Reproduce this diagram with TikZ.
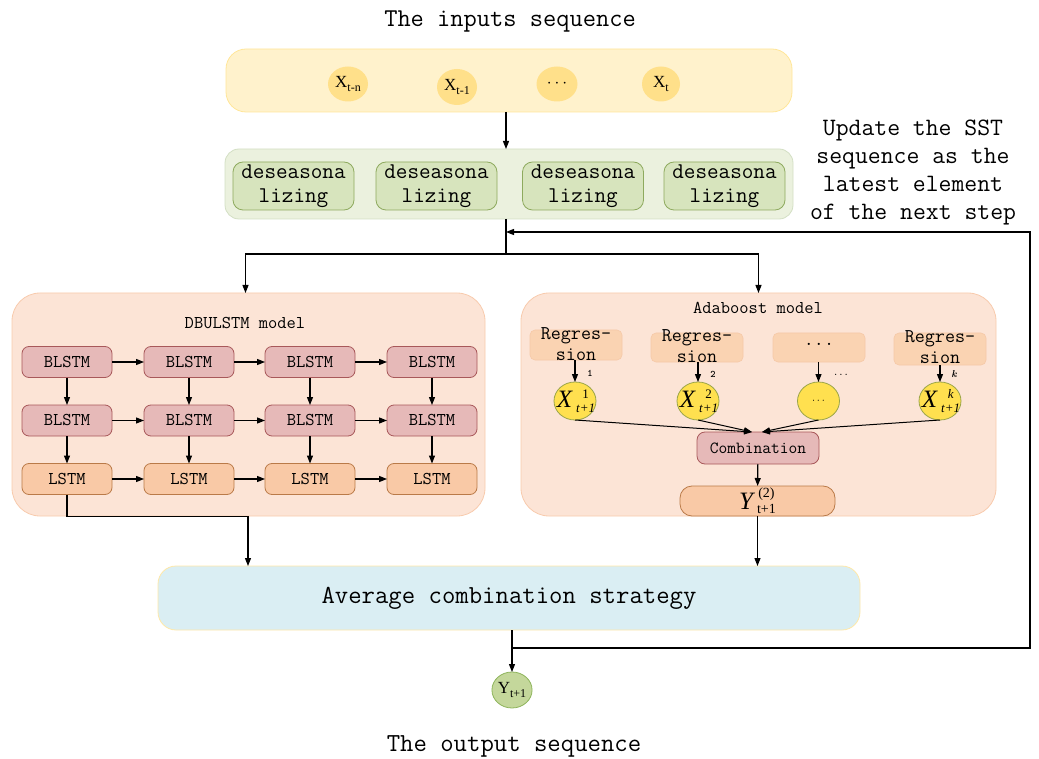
\documentclass[tikz,border=0pt]{standalone}
\usepackage{fontspec}
\newfontfamily\serifX{Liberation Serif}
\usetikzlibrary{arrows.meta,shapes.geometric,calc}
\definecolor{inpF}{HTML}{FFF2CC}
\definecolor{inpB}{HTML}{FFE699}
\definecolor{inpC}{HTML}{FFE08A}
\definecolor{grnF}{HTML}{EBF1DE}
\definecolor{grnB}{HTML}{D3DFC4}
\definecolor{desF}{HTML}{D7E4BD}
\definecolor{desB}{HTML}{8EAA5E}
\definecolor{pchF}{HTML}{FCE4D6}
\definecolor{pchB}{HTML}{F8CBAD}
\definecolor{blF}{HTML}{E6B9B8}
\definecolor{blB}{HTML}{A8585A}
\definecolor{lsF}{HTML}{F9C9A6}
\definecolor{lsB}{HTML}{BA7A48}
\definecolor{rgF}{HTML}{FAD3B2}
\definecolor{rgB}{HTML}{F6C9A8}
\definecolor{ylF}{HTML}{FFE04F}
\definecolor{ylB}{HTML}{9AA548}
\definecolor{avF}{HTML}{DAEEF3}
\definecolor{avB}{HTML}{FFE8A8}
\definecolor{ouF}{HTML}{C4D79B}
\definecolor{ouB}{HTML}{8DB45A}
\newcommand{\subx}[1]{\raisebox{-0.25em}{\fontsize{12}{12}\selectfont #1}}
\newcommand{\xlab}[1]{{\serifX\itshape\fontsize{25}{25}\selectfont X}\hspace{4pt}\raisebox{-0.5em}{\serifX\fontsize{13}{14}\selectfont\shortstack{#1\\[2pt]\itshape t+1}}}
\begin{document}
\begin{tikzpicture}[x=1pt,y=-1pt,
  every node/.style={inner sep=0pt,outer sep=0pt},
  arr/.style={-{Triangle[length=8pt,width=6pt]},line width=1.2pt},
  ln/.style={line width=1.2pt},
  panel/.style={rounded corners=#1,line width=0.8pt},
  panel/.default=28pt,
  txt/.style={font=\ttfamily\fontsize{#1}{#1}\selectfont},
  desbox/.style={draw=desB,fill=desF,rounded corners=10pt,line width=0.8pt,minimum width=121pt,minimum height=48pt,align=center,font=\ttfamily\fontsize{22.5}{24}\selectfont},
  blstm/.style={draw=blB,fill=blF,rounded corners=7pt,line width=0.8pt,minimum width=90pt,minimum height=31pt,font=\ttfamily\fontsize{18}{18}\selectfont},
  lstm/.style={draw=lsB,fill=lsF,rounded corners=7pt,line width=0.8pt,minimum width=90pt,minimum height=31pt,font=\ttfamily\fontsize{18}{18}\selectfont},
  regbox/.style={draw=rgB,fill=rgF,rounded corners=5pt,line width=0.6pt,minimum width=92pt,minimum height=30pt},
  regtxt/.style={align=center,font=\ttfamily\fontsize{19.5}{20.5}\selectfont},
  incirc/.style={ellipse,fill=inpC,minimum width=40pt,minimum height=35pt,font=\serifX\fontsize{17}{17}\selectfont},
  ycirc/.style={ellipse,draw=ylB,fill=ylF,line width=0.8pt,minimum width=42pt,minimum height=38pt},
  small/.style={font=\ttfamily\bfseries\fontsize{10}{10}\selectfont}
]
\useasboundingbox (0,0) rectangle (1039,759);

% titles
\node[txt=25.7] (title) at (510,22) {The inputs sequence};
\node[txt=26] (outtitle) at (514,746) {The output sequence};
\node[align=center,font=\ttfamily\fontsize{25}{28}\selectfont] (upd) at (913,172)
  {Update the SST\\sequence as the\\latest element\\of the next step};

% inputs
\node[panel=20pt,draw=inpB,fill=inpF,minimum width=566pt,minimum height=63pt] (inputs) at (509,80.5) {};
\node[incirc] (x1) at (348,84) {X\subx{t-n}};
\node[incirc,minimum height=36pt] (x2) at (457,87) {X\subx{t-1}};
\node[incirc,minimum width=41pt] (x3) at (557,84) {\textbf{$\cdots$}};
\node[incirc,minimum width=38pt] (x4) at (661,84) {X\subx{t}};

% deseasonalizing
\node[panel=14pt,draw=grnB,fill=grnF,minimum width=568pt,minimum height=70pt] (green) at (509,184) {};
\node[desbox] (d1) at (293.5,186) {deseasona\\lizing};
\node[desbox] (d2) at (436.5,186) {deseasona\\lizing};
\node[desbox] (d3) at (583,186) {deseasona\\lizing};
\node[desbox] (d4) at (724.5,186) {deseasona\\lizing};
\draw[arr] ([xshift=-3pt]inputs.south) -- ([xshift=-3pt]green.north);

% panels
\node[panel,draw=pchB,fill=pchF,minimum width=473pt,minimum height=223pt] (dbu) at (248.5,404.5) {};
\node[panel,draw=pchB,fill=pchF,minimum width=475pt,minimum height=223pt] (ada) at (758.5,404.5) {};
\node[txt=18] (dbut) at (245,323) {DBULSTM model};
\node[txt=18] (adat) at (758,308) {Adaboost model};

% split from deseasonalizing
\draw[ln] ([xshift=-3pt]green.south) -- ++(0,35) coordinate (sp);
\draw[arr] (sp) -| ([xshift=-3pt]dbu.north);
\draw[arr] (sp) -| (ada.north);

% DBULSTM grid
\foreach \c/\x in {1/67,2/189,3/310,4/432} {
  \node[blstm] (a\c) at (\x,362) {BLSTM};
  \node[blstm] (b\c) at (\x,420.5) {BLSTM};
  \node[lstm] (l\c) at (\x,479) {LSTM};
  \draw[arr] (a\c) -- (b\c);
  \draw[arr] (b\c) -- (l\c);
}
\foreach \c [count=\n from 2] in {1,2,3} {
  \draw[arr] (a\c) -- (a\n);
  \draw[arr] (b\c) -- (b\n);
  \draw[arr] (l\c) -- (l\n);
}

% Adaboost
\node[regbox] (r1) at (576,345) {};
\node[regbox,minimum height=29pt] (r2) at (697,347.5) {};
\node[regbox,minimum height=29pt] (r3) at (819,347.5) {};
\node[regbox,minimum height=32pt] (r4) at (940,349) {};
\node[regtxt] (r1t) at (576,344) {Regres-\\sion};
\node[regtxt] (r2t) at (697,346) {Regres-\\sion};
\node[regtxt] (r3t) at (819,344) {...};
\node[regtxt] (r4t) at (940,347) {Regres-\\sion};

\node[ycirc] (y1) at (575,401) {};
\node[ycirc] (y2) at (698,401) {};
\node[ycirc] (y3) at (818.5,401) {};
\node[ycirc] (y4) at (940,401) {};
\node (y1t) at (576,401) {\xlab{1}};
\node (y2t) at (699,401) {\xlab{2}};
\node[font=\fontsize{11}{11}\selectfont] (y3t) at (818.5,401) {$\cdots$};
\node (y4t) at (941,401) {\xlab{\itshape k}};
\foreach \i in {1,2,3,4} { \draw[arr] (r\i.south -| y\i) -- (y\i.north); }
\node[small] (s1) at (590,373) {1};
\node[small] (s2) at (713,374) {2};
\node[small,font=\ttfamily\fontsize{10}{10}\selectfont] (s3) at (841,375) {...};
\node[small,font=\itshape\bfseries\fontsize{10}{10}\selectfont] (s4) at (954,374) {k};

\node[draw=blB,fill=blF,rounded corners=8pt,line width=0.8pt,minimum width=122pt,minimum height=32pt,font=\ttfamily\fontsize{17}{17}\selectfont] (comb) at (758,448) {Combination};
\coordinate (cl) at ([xshift=-6pt]comb.north);
\coordinate (cr) at ([xshift=4pt]comb.north);
\draw[arr,line width=1pt] (y1.south) -- (cl);
\draw[arr,line width=1pt] (y2.south) -- (cl);
\draw[arr,line width=1pt] (y3.south) -- (cr);
\draw[arr,line width=1pt] (y4.south) -- (cr);

\node[draw=lsB,fill=lsF,rounded corners=12pt,line width=0.8pt,minimum width=155pt,minimum height=30pt] (yb) at (757.5,501) {};
\node (ybt) at (757.5,501) {{\serifX\itshape\fontsize{25}{25}\selectfont Y}\hspace{4pt}\raisebox{-0.45em}{\serifX\fontsize{14}{15}\selectfont\shortstack{(2)\\[1pt]t+1}}};
\draw[arr] (comb) -- (yb);

% Average
\node[panel=18pt,draw=avB,fill=avF,minimum width=702pt,minimum height=64pt,font=\ttfamily\fontsize{26}{26}\selectfont] (avg) at (509,598) {Average combination strategy};
\coordinate (avgL) at (248,566);
\draw[arr] (l1.south) -- ++(0,22) -| (avgL);
\draw[arr] (yb.south) -- (yb.south |- avg.north);

% output
\node[ellipse,draw=ouB,fill=ouF,line width=0.8pt,minimum width=34pt,minimum height=36pt,font=\serifX\fontsize{17}{17}\selectfont] (out) at (512,690) {Y\subx{t+1}};
\draw[arr] (out |- avg.south) -- (out.north);

% feedback
\coordinate (fb0) at (512,648);
\coordinate (fb1) at (1030,648);
\coordinate (fb2) at (1030,232);
\coordinate (fb3) at (506,232);
\draw[arr] (fb0) -- (fb1) -- (fb2) -- (fb3);
\end{tikzpicture}
\end{document}
